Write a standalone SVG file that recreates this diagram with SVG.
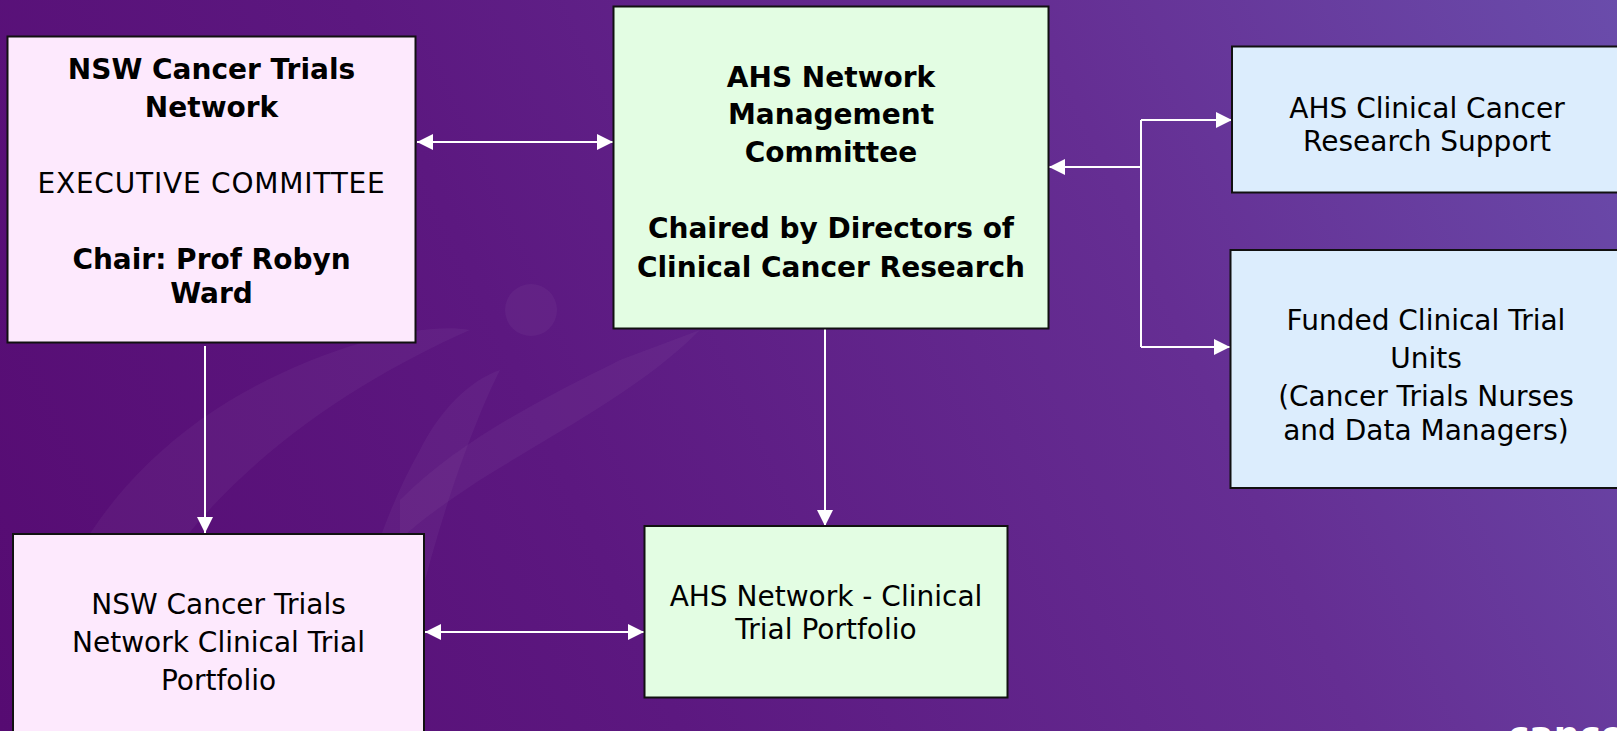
<svg xmlns="http://www.w3.org/2000/svg" width="1617" height="731" viewBox="0 0 1617 731">
  <defs>
    <linearGradient id="bg" x1="0" y1="731" x2="1617" y2="0" gradientUnits="userSpaceOnUse">
      <stop offset="0" stop-color="#560b72"/>
      <stop offset="0.35" stop-color="#5c1880"/>
      <stop offset="0.7" stop-color="#652e93"/>
      <stop offset="1" stop-color="#6a4cab"/>
    </linearGradient>
    <marker id="arr" markerUnits="userSpaceOnUse" markerWidth="17" markerHeight="16" viewBox="0 0 17 16" refX="16" refY="8" orient="auto-start-reverse">
      <path d="M0,0 L16,8 L0,16 z" fill="#ffffff"/>
    </marker>
    <style>
      .box { stroke: #111111; stroke-width: 2; }
      .pink { fill: #fde9fd; }
      .green { fill: #e3fde3; }
      .blue { fill: #dcedfd; }
      .t { font-family: "DejaVu Sans", Verdana, sans-serif; font-size: 28px; fill: #000000; text-anchor: middle; }
      .b { font-weight: bold; }
      .c { fill: none; stroke: #ffffff; stroke-width: 2; }
      .wm { fill: #ffffff; opacity: 0.04; }
    </style>
  </defs>

  <rect x="0" y="0" width="1617" height="731" fill="url(#bg)"/>
  <!-- faint watermark shapes -->
  <g id="watermark">
    <path class="wm" d="M20,731 C40,600 90,500 200,420 C300,350 420,320 470,330 C380,370 280,430 200,520 C140,590 110,660 100,731 Z"/>
    <path class="wm" d="M330,731 C350,620 380,520 420,450 C440,410 470,380 500,370 C470,430 440,520 420,600 C405,660 400,700 398,731 Z"/>
    <path class="wm" d="M400,500 C460,440 540,400 620,360 L700,330 C640,390 560,430 480,480 C450,500 420,520 400,540 Z"/>
    <circle class="wm" cx="531" cy="310" r="26"/>
  </g>

  <g id="connectors">
    <line class="c" x1="417" y1="142" x2="613" y2="142" stroke-width="2.5" marker-start="url(#arr)" marker-end="url(#arr)"/>
    <path class="c" d="M1141,167 H1049" marker-end="url(#arr)"/>
    <path class="c" d="M1141,120 V347"/>
    <path class="c" d="M1141,120 H1232" marker-end="url(#arr)"/>
    <path class="c" d="M1141,347 H1230" marker-end="url(#arr)"/>
    <path class="c" d="M205,346 V533" marker-end="url(#arr)"/>
    <path class="c" d="M825,328 V526" marker-end="url(#arr)"/>
    <line class="c" x1="425" y1="632" x2="644" y2="632" stroke-width="2.5" marker-start="url(#arr)" marker-end="url(#arr)"/>
  </g>

  <g id="node-nsw-exec">
    <rect class="box pink" x="7.5" y="36.5" width="408" height="306"/>
    <text class="t b" x="211.5" y="79">NSW Cancer Trials</text>
    <text class="t b" x="211.5" y="117">Network</text>
    <text class="t" x="211.5" y="193" letter-spacing="0.8">EXECUTIVE COMMITTEE</text>
    <text class="t b" x="211.5" y="269">Chair: Prof Robyn</text>
    <text class="t b" x="211.5" y="303">Ward</text>
  </g>

  <g id="node-ahs-mgmt">
    <rect class="box green" x="613.5" y="6.5" width="435" height="322"/>
    <text class="t b" x="831" y="87">AHS Network</text>
    <text class="t b" x="831" y="124">Management</text>
    <text class="t b" x="831" y="162">Committee</text>
    <text class="t b" x="831" y="238">Chaired by Directors of</text>
    <text class="t b" x="831" y="277">Clinical Cancer Research</text>
  </g>

  <g id="node-ahs-support">
    <rect class="box blue" x="1232" y="46.5" width="392" height="146"/>
    <text class="t" x="1427" y="118">AHS Clinical Cancer</text>
    <text class="t" x="1427" y="151">Research Support</text>
  </g>

  <g id="node-funded-units">
    <rect class="box blue" x="1230.5" y="250" width="394" height="238"/>
    <text class="t" x="1426" y="330">Funded Clinical Trial</text>
    <text class="t" x="1426" y="368">Units</text>
    <text class="t" x="1426" y="406">(Cancer Trials Nurses</text>
    <text class="t" x="1426" y="440">and Data Managers)</text>
  </g>

  <g id="node-nsw-portfolio">
    <rect class="box pink" x="13" y="534" width="411" height="210"/>
    <text class="t" x="218.5" y="614">NSW Cancer Trials</text>
    <text class="t" x="218.5" y="652">Network Clinical Trial</text>
    <text class="t" x="218.5" y="690">Portfolio</text>
  </g>

  <g id="node-ahs-portfolio">
    <rect class="box green" x="644.5" y="526" width="363" height="171.5"/>
    <text class="t" x="826" y="606">AHS Network - Clinical</text>
    <text class="t" x="826" y="639">Trial Portfolio</text>
  </g>

  <text x="1508" y="747" font-family="DejaVu Sans, sans-serif" font-weight="bold" font-size="36" fill="#ffffff">cancer</text>
</svg>
